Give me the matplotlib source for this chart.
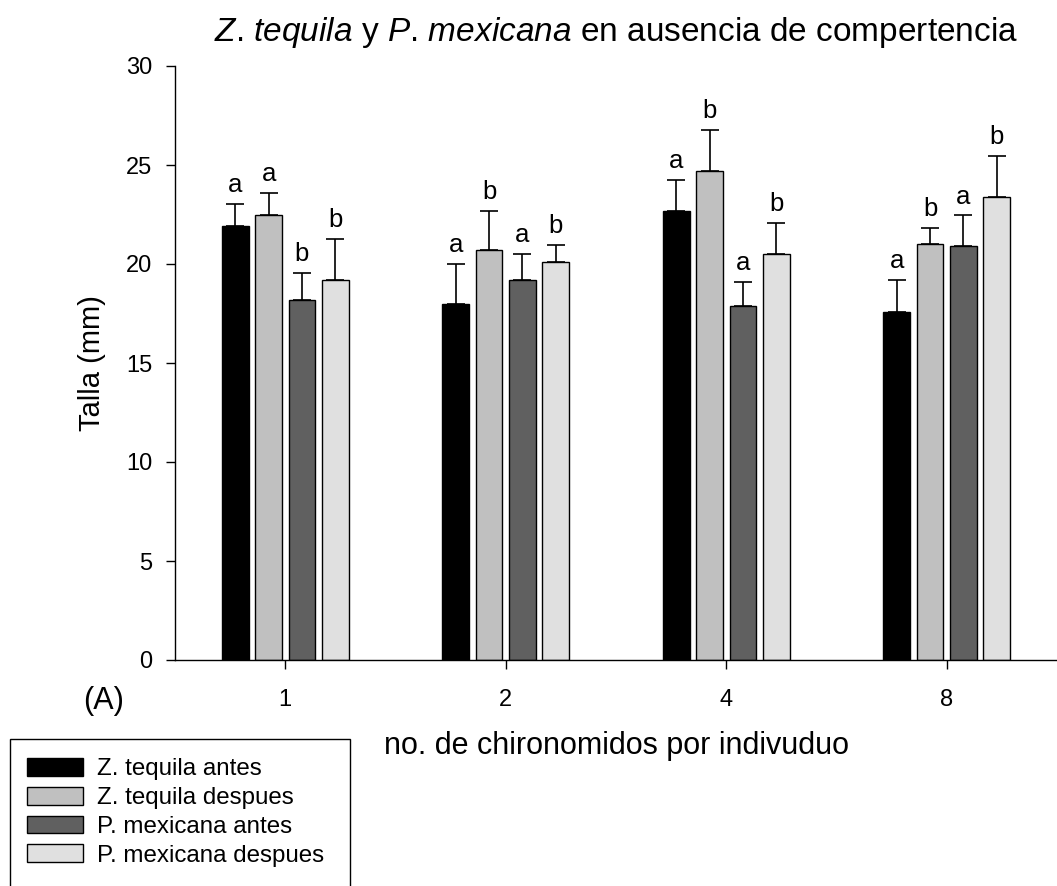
import numpy as np
import matplotlib
matplotlib.use("Agg")
import matplotlib.pyplot as plt
from matplotlib.patches import Rectangle

plt.rcParams['font.family'] = ['Liberation Sans', 'DejaVu Sans']
plt.rcParams['mathtext.fontset'] = 'custom'
plt.rcParams['mathtext.rm'] = 'Liberation Sans'
plt.rcParams['mathtext.it'] = 'Liberation Sans:italic'

# chironomid density groups
groups = ['1', '2', '4', '8']
series = ['Z. tequila antes', 'Z. tequila despues',
          'P. mexicana antes', 'P. mexicana despues']

# mean size (mm) per series, one value per group
zt_antes = [21.9, 18.0, 22.7, 17.6]
zt_despues = [22.5, 20.7, 24.7, 21.0]
pm_antes = [18.2, 19.2, 17.9, 20.9]
pm_despues = [19.2, 20.1, 20.5, 23.4]

# upper error (mm)
zt_antes_err = [1.15, 2.0, 1.55, 1.6]
zt_despues_err = [1.1, 2.0, 2.05, 0.8]
pm_antes_err = [1.35, 1.3, 1.2, 1.55]
pm_despues_err = [2.05, 0.85, 1.55, 2.05]

# significance letters
zt_antes_lbl = ['a', 'a', 'a', 'a']
zt_despues_lbl = ['a', 'b', 'b', 'b']
pm_antes_lbl = ['b', 'a', 'a', 'a']
pm_despues_lbl = ['b', 'b', 'b', 'b']

means = [zt_antes, zt_despues, pm_antes, pm_despues]
errs = [zt_antes_err, zt_despues_err, pm_antes_err, pm_despues_err]
letters = [zt_antes_lbl, zt_despues_lbl, pm_antes_lbl, pm_despues_lbl]
colors = ['#000000', '#c0c0c0', '#606060', '#e0e0e0']

W, H = 1057, 886
fig = plt.figure(figsize=(W / 100, H / 100), dpi=100)
ax = fig.add_axes([175 / W, 1 - 660 / H, (W - 175) / W, (660 - 66) / H])

x = np.arange(len(groups))
pitch = 0.151
width = 0.121
handles = []
for i in range(4):
    xi = x + (i - 1.5) * pitch
    b = ax.bar(xi, means[i], width, color=colors[i], edgecolor='black',
               linewidth=1.0, label=series[i], zorder=2)
    handles.append(b)
    ax.errorbar(xi, means[i], yerr=[np.zeros(4), errs[i]], fmt='none',
                ecolor='black', elinewidth=1.2, capsize=6.5, capthick=1.2,
                zorder=1)
    for xx, m, e, t in zip(xi, means[i], errs[i], letters[i]):
        ax.annotate(t, (xx, m + e), xytext=(0, 5), textcoords='offset points',
                    ha='center', va='bottom', fontsize=18.5)

ax.set_xlim(-0.5, 3.5)
ax.set_ylim(0, 30)
ax.set_yticks(np.arange(0, 31, 5))
ax.set_xticks(x)
ax.set_xticklabels(groups)
ax.tick_params(axis='both', direction='out', length=6.5, width=1, labelsize=17)
ax.tick_params(axis='y', pad=10)
ax.tick_params(axis='x', pad=14.5)
for s in ['top', 'right']:
    ax.spines[s].set_visible(False)
for s in ['left', 'bottom']:
    ax.spines[s].set_linewidth(1.0)

ax.set_ylabel('Talla (mm)', fontsize=21, labelpad=14)
ax.set_xlabel('no. de chironomidos por indivuduo', fontsize=22, labelpad=14)
ax.set_title(r'$\mathit{Z}$. $\mathit{tequila}$ y $\mathit{P}$. $\mathit{mexicana}$'
             ' en ausencia de compertencia', fontsize=24, pad=18)

fig.text(104 / W, 1 - 701 / H, '(A)', fontsize=22, ha='center', va='center')

# legend box, running off the bottom edge
fig.patches.append(Rectangle((10 / W, -0.05), 340 / W, (1 - 739 / H) + 0.05,
                             transform=fig.transFigure, fill=False,
                             edgecolor='black', linewidth=1.0))
fig.legend(handles=handles, labels=series, loc='upper left',
           bbox_to_anchor=(27 / W, 1 - 758 / H), frameon=False, fontsize=17.4,
           handlelength=2.3, handleheight=0.75, handletextpad=0.58,
           labelspacing=0.27, borderaxespad=0, borderpad=0)

fig.savefig('out.png', dpi=100)
